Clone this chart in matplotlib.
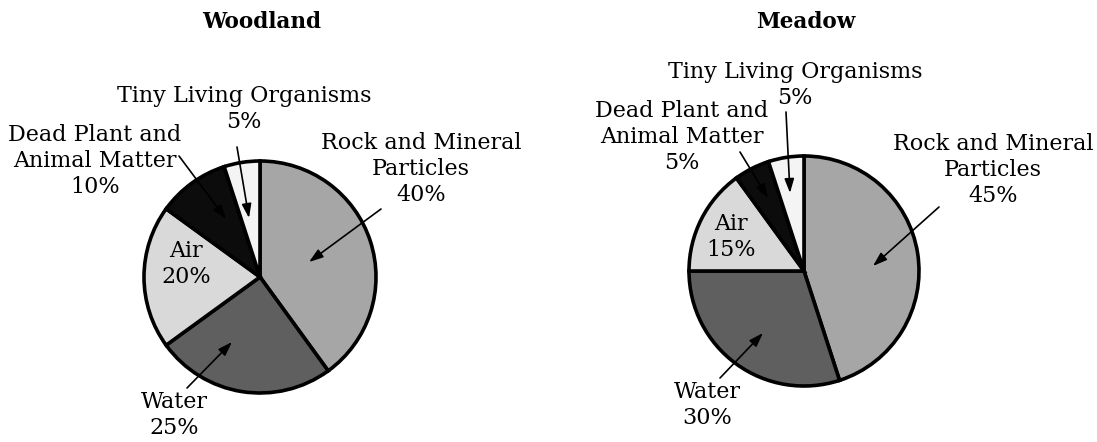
import matplotlib
matplotlib.use("Agg")
import matplotlib.pyplot as plt

categories = ["Rock and Mineral\nParticles", "Water", "Air",
              "Dead Plant and\nAnimal Matter", "Tiny Living Organisms"]
woodland_values = [40, 25, 20, 10, 5]
meadow_values = [45, 30, 15, 5, 5]
titles = ["Woodland", "Meadow"]
slice_colors = ["#a6a6a6", "#5f5f5f", "#d9d9d9", "#0c0c0c", "#f4f4f4"]

W, H = 1097, 442
fig = plt.figure(figsize=(W / 100, H / 100), dpi=100)
ax = fig.add_axes([0, 0, 1, 1])
FONT = "DejaVu Serif"
FS = 16

def Y(y):
    return H - y

def draw(values, cx, cy, r, title, title_x, layout):
    ax.pie(values, colors=slice_colors, startangle=90, counterclock=False,
           center=(cx, Y(cy)), radius=r,
           wedgeprops=dict(edgecolor="black", linewidth=2.6))
    ax.text(title_x, Y(22), title, ha="center", va="center",
            fontsize=15.5, fontweight="bold", family=FONT)
    for i, (tx, ty, tail, head) in enumerate(layout):
        name = categories[i]
        ax.text(tx, Y(ty), f"{name}\n{values[i]}%", ha="center", va="center",
                fontsize=FS, family=FONT, linespacing=1.25)
        if tail is not None:
            ax.annotate("", xy=(head[0], Y(head[1])), xytext=(tail[0], Y(tail[1])),
                        arrowprops=dict(arrowstyle="-|>,head_length=0.65,head_width=0.22",
                                        color="black", lw=1.2,
                                        mutation_scale=13, shrinkA=0, shrinkB=0))

wood_layout = [
    (421, 169, (381, 209), (309, 262)),
    (174, 415, (187, 388), (232, 342)),
    (186, 264, None, None),
    (95, 161, (179, 156), (226, 219)),
    (244, 109, (237, 147), (249, 218)),
]
mead_layout = [
    (993, 170, (939, 207), (873, 266)),
    (707, 405, (720, 378), (763, 333)),
    (731, 237, None, None),
    (682, 137, (740, 152), (768, 198)),
    (795, 85, (786, 112), (790, 193)),
]

draw(woodland_values, 260, 277, 116, titles[0], 262, wood_layout)
draw(meadow_values, 804, 271, 115, titles[1], 806, mead_layout)

ax.set_xlim(0, W)
ax.set_ylim(0, H)
ax.set_aspect("equal")
ax.axis("off")
fig.savefig("out.png", dpi=100, facecolor="white")
